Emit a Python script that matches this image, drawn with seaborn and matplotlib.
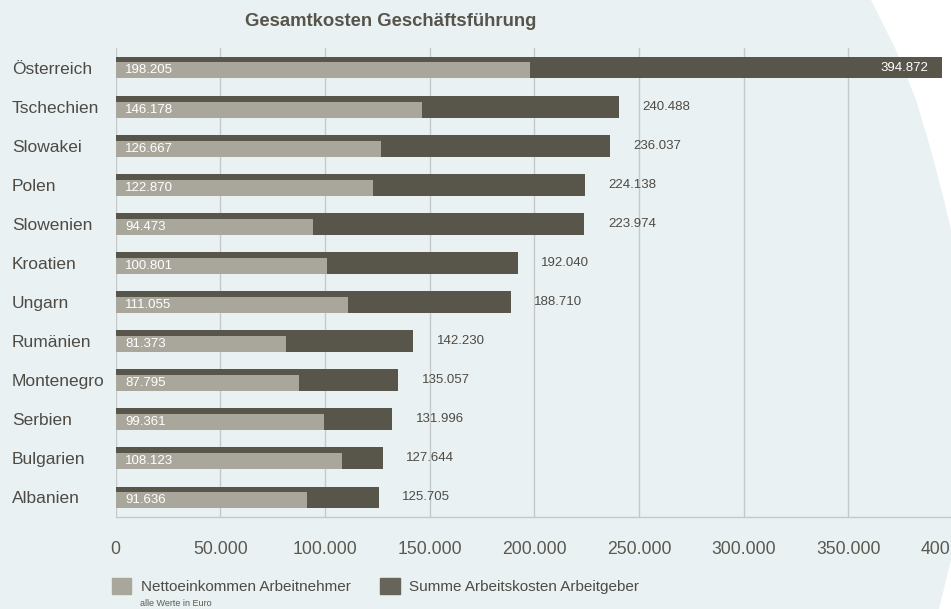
import pandas as pd
import matplotlib.pyplot as plt
import matplotlib.patches as mpatches
import seaborn as sns

# Gesamtkosten Geschäftsführung, values in Euro
countries = ["Österreich", "Tschechien", "Slowakei", "Polen", "Slowenien", "Kroatien",
             "Ungarn", "Rumänien", "Montenegro", "Serbien", "Bulgarien", "Albanien"]
netto = [198205, 146178, 126667, 122870, 94473, 100801,
         111055, 81373, 87795, 99361, 108123, 91636]
summe = [394872, 240488, 236037, 224138, 223974, 192040,
         188710, 142230, 135057, 131996, 127644, 125705]
x_ticks = [0, 50000, 100000, 150000, 200000, 250000, 300000, 350000, 400000]

dark = "#58554a"
light = "#a9a69b"
bg = "#e9f1f3"
txt = "#4e4b44"

df = pd.DataFrame({"Land": countries, "Netto": netto, "Summe": summe})

sns.set_style("white")
plt.rcParams["font.family"] = ["Liberation Sans", "DejaVu Sans"]

W, H = 951, 609
fig = plt.figure(figsize=(W / 100, H / 100), dpi=100)
fig.patch.set_facecolor(bg)

# page background with white curved cut-outs on the right
bg_ax = fig.add_axes([0, 0, 1, 1], zorder=-1)
bg_ax.set_xlim(0, W)
bg_ax.set_ylim(H, 0)
bg_ax.set_facecolor(bg)
bg_ax.axis("off")
top_cut = [(871, 0), (896, 50), (916, 100), (931, 150), (944, 200), (951, 230), (951, 0)]
bot_cut = [(951, 560), (939, 609), (951, 609)]
for pts in (top_cut, bot_cut):
    bg_ax.fill([p[0] for p in pts], [p[1] for p in pts], color="white", lw=0)

x0, x1 = 115.5, 953
y_top, y_bot = 48, 517
ax = fig.add_axes([x0 / W, 1 - y_bot / H, (x1 - x0) / W, (y_bot - y_top) / H])
ax.set_facecolor("none")

sns.barplot(data=df, x="Summe", y="Land", orient="h", color=dark, width=0.56,
            saturation=1, linewidth=0, ax=ax, zorder=2)
n_dark = len(ax.patches)
sns.barplot(data=df, x="Netto", y="Land", orient="h", color=light, width=0.41,
            saturation=1, linewidth=0, ax=ax, zorder=3)
light_bars = ax.patches[n_dark:]
for p in light_bars:
    p.set_y(p.get_y() + 0.075)

ax.set_xlim(0, 400000)
ax.set_ylim(11.5, -0.5)
ax.set_xticks(x_ticks)
ax.set_xticklabels([f"{v:,}".replace(",", ".") for v in x_ticks])
ax.grid(axis="x", color="#c6c9ca", linewidth=1, zorder=0)
ax.set_axisbelow(True)
ax.set_xlabel("")
ax.set_ylabel("")
for s in ["top", "right", "left"]:
    ax.spines[s].set_visible(False)
ax.spines["bottom"].set_color("#c6c9ca")
ax.spines["bottom"].set_linewidth(1)

ax.tick_params(axis="x", length=0, pad=17, labelsize=12.7, labelcolor="#5b594f")
ax.tick_params(axis="y", length=0, pad=74.5, labelsize=12.5, labelcolor=txt)
for lab in ax.get_yticklabels():
    lab.set_horizontalalignment("left")

# value labels
for i, (n, s) in enumerate(zip(netto, summe)):
    ax.annotate(f"{n:,}".replace(",", "."), xy=(0, i + 0.075), xytext=(7, 0),
                textcoords="offset points", va="center", ha="left",
                fontsize=9.5, color="white", zorder=5)
    lbl = f"{s:,}".replace(",", ".")
    if s > 300000:
        ax.annotate(lbl, xy=(s, i), xytext=(-10, 0), textcoords="offset points",
                    va="center", ha="right", fontsize=9.5, color="white", zorder=5)
    else:
        ax.annotate(lbl, xy=(s, i), xytext=(17, 0), textcoords="offset points",
                    va="center", ha="left", fontsize=9.5, color=txt, zorder=5)

fig.text(391 / W, 1 - 22 / H, "Gesamtkosten Geschäftsführung", ha="center", va="center",
         fontsize=13.3, fontweight="bold", color="#57544b")

handles = [mpatches.Patch(color=light, label="Nettoeinkommen Arbeitnehmer"),
           mpatches.Patch(color="#67645a", label="Summe Arbeitskosten Arbeitgeber")]
fig.legend(handles=handles, loc="center left", bbox_to_anchor=(98 / W, 1 - 586 / H),
           ncol=2, frameon=False, fontsize=11, labelcolor=txt,
           handlelength=1.25, handleheight=1.25, handletextpad=0.65, columnspacing=1.95)
fig.text(140 / W, 1 - 604 / H, "alle Werte in Euro", ha="left", va="center",
         fontsize=6.5, color="#5b594f")

fig.savefig("out.png", dpi=100, facecolor=bg)
